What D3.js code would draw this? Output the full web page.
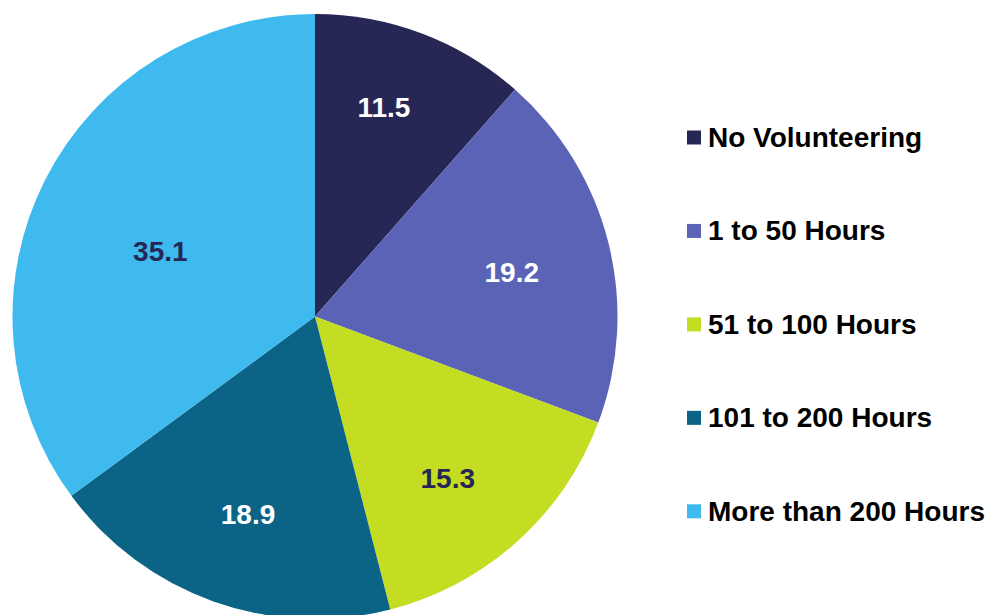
<!DOCTYPE html>
<html><head><meta charset="utf-8">
<script src="https://cdn.jsdelivr.net/npm/d3@7"></script>
<style>html,body{margin:0;padding:0;background:#fff;overflow:hidden}</style>
</head><body>
<svg id="chart" width="987" height="615"></svg>
<script>
const categories = ["No Volunteering","1 to 50 Hours","51 to 100 Hours","101 to 200 Hours","More than 200 Hours"];
const values = [11.5, 19.2, 15.3, 18.9, 35.1];
const colors = ["#262755","#5B63B6","#C4DD22","#0B6386","#3EBAEF"];
const labelColors = ["#ffffff","#ffffff","#262755","#ffffff","#262755"];
// label placement tweaks (style): radius fraction and angular shift in degrees
const labelRadiusFrac = [0.729, 0.667, 0.691, 0.69, 0.556];
const labelAngleShift = [-2.5, 1.3, 2.5, -0.9, -3.7];

const svg = d3.select("#chart");
const cx = 315, cy = 316.5, R = 302.5;
const g = svg.append("g").attr("transform", `translate(${cx},${cy})`);

const pie = d3.pie().sort(null).value(d => d)(values);
const arc = d3.arc().innerRadius(0).outerRadius(R);

g.selectAll("path").data(pie).join("path")
  .attr("d", arc)
  .attr("fill", (d,i) => colors[i]);

g.selectAll("text").data(pie).join("text")
  .attr("transform", (d,i) => {
    const a = (d.startAngle + d.endAngle) / 2 + labelAngleShift[i] * Math.PI / 180;
    const r = R * labelRadiusFrac[i];
    return `translate(${r * Math.sin(a)},${-r * Math.cos(a)})`;
  })
  .attr("dy", "0.36em")
  .attr("text-anchor", "middle")
  .attr("font-family", "Liberation Sans, Arial, sans-serif")
  .attr("font-weight", "bold")
  .attr("font-size", 28)
  .attr("fill", (d,i) => labelColors[i])
  .text(d => d.data.toFixed(1));

const legendY = d3.scalePoint().domain(categories).range([137.5, 511.3]);
const lg = svg.append("g");
const items = lg.selectAll("g").data(categories).join("g")
  .attr("transform", d => `translate(687,${legendY(d)})`);
items.append("rect").attr("x", 0).attr("y", -7).attr("width", 14).attr("height", 14)
  .attr("fill", (d,i) => colors[i]);
items.append("text").attr("x", 21).attr("y", 9.5)
  .attr("font-family", "Liberation Sans, Arial, sans-serif")
  .attr("font-weight", "bold")
  .attr("font-size", 28)
  .attr("fill", "#000")
  .text(d => d);
</script>
</body></html>
